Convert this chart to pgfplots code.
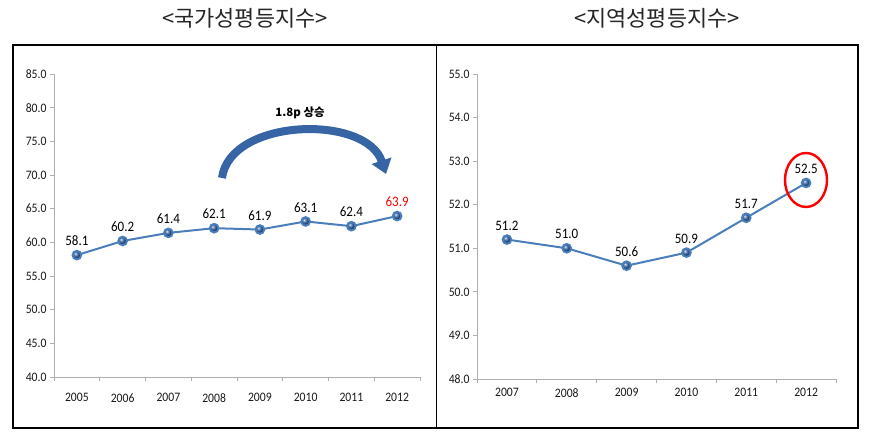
\documentclass[border=0pt]{standalone}
\usepackage{fontspec}
\setmainfont{Carlito}[FakeStretch=0.9]
\newfontfamily\kr{Noto Sans CJK KR}
\usepackage{pgfplots}
\pgfplotsset{compat=1.18}
\usetikzlibrary{arrows.meta}
\definecolor{lineblue}{RGB}{74,126,187}
\definecolor{markblue}{RGB}{50,95,165}
\definecolor{arrowblue}{RGB}{55,100,165}
\definecolor{axgray}{RGB}{175,175,175}
\definecolor{txt}{RGB}{25,25,25}
\pgfplotsset{
 myaxis/.style={
  scale only axis,
  axis x line*=bottom, axis y line*=left,
  axis line style={axgray, line width=0.8bp, -},
  tick style={axgray, line width=0.8bp},
  tick align=outside,
  major tick length=4bp,
  yticklabel style={/pgf/number format/assume math mode=true, /pgf/number format/fixed, /pgf/number format/fixed zerofill, /pgf/number format/precision=1, font=\fontsize{13}{15}\selectfont, text=txt},
  xticklabels={},
  xticklabel style={font=\fontsize{13}{15}\selectfont, text=txt},
  clip=false,
  point meta=explicit symbolic,
  nodes near coords,
  every node near coord/.append style={font=\fontsize{14.5}{16}\selectfont, text=black, yshift=5bp},
 },
 myline/.style={lineblue, line width=2bp, mark=ball, mark size=4.3bp, mark options={ball color=markblue}},
}
\begin{document}
\begin{tikzpicture}
\begin{scope}[x=1bp,y=1bp]
\useasboundingbox (0,0) rectangle (873,440);
\draw[line width=1.3bp] (13,12) rectangle (858,395);
\draw[line width=1.3bp] (436.5,12) -- (436.5,395);
\node[font=\kr\fontsize{22}{24}\selectfont, text=black!85] at (245,422) {<국가성평등지수>};
\node[font=\kr\fontsize{22}{24}\selectfont, text=black!85] at (657,422) {<지역성평등지수>};
\end{scope}

\begin{axis}[myaxis, at={(54bp,63bp)}, anchor=south west,
  width=366bp, height=303bp,
  xmin=0.5, xmax=8.5, ymin=40, ymax=85,
  ytick={40,45,...,85},
  xtick={0.5,1.5,...,8.5},
  extra x ticks={1,2,3,4,5,6,7,8},
  extra x tick labels={2005,2006,2007,2008,2009,2010,2011,2012},
  extra x tick style={major tick length=0pt, xticklabel style={yshift=-13bp}},
]
\addplot[myline] coordinates {
 (1,58.1) [58.1]
 (2,60.2) [60.2]
 (3,61.4) [61.4]
 (4,62.1) [62.1]
 (5,61.9) [61.9]
 (6,63.1) [63.1]
 (7,62.4) [62.4]
 (8,63.9) [\textcolor{red}{63.9}]
};
\end{axis}

\begin{axis}[myaxis, at={(477bp,61bp)}, anchor=south west,
  width=359bp, height=305bp,
  xmin=0.5, xmax=6.5, ymin=48, ymax=55,
  ytick={48,49,...,55},
  xtick={0.5,1.5,...,6.5},
  extra x ticks={1,2,3,4,5,6},
  extra x tick labels={2007,2008,2009,2010,2011,2012},
  extra x tick style={major tick length=0pt, xticklabel style={yshift=-6bp}},
]
\addplot[myline] coordinates {
 (1,51.2) [51.2]
 (2,51.0) [51.0]
 (3,50.6) [50.6]
 (4,50.9) [50.9]
 (5,51.7) [51.7]
 (6,52.5) [52.5]
};
\end{axis}

\begin{scope}[x=1bp,y=1bp]
\draw[line width=8bp, arrowblue, -{Triangle[length=14bp,width=20bp]}] (222,262) .. controls (230,322) and (366,326) .. (386,266);
\node[font=\kr\bfseries\fontsize{11.5}{13}\selectfont] at (300,327) {1.8p 상승};
\draw[red, line width=2.4bp] (806,260) ellipse [x radius=21, y radius=27];
\end{scope}
\end{tikzpicture}
\end{document}
